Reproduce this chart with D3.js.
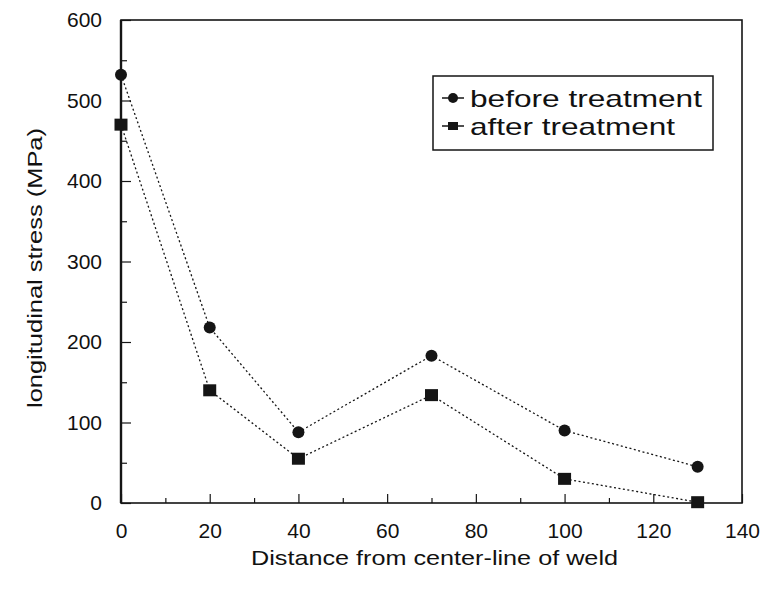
<!DOCTYPE html>
<html><head><meta charset="utf-8">
<script src="https://cdn.jsdelivr.net/npm/d3@7"></script>
<style>body{margin:0;background:#fff}svg{display:block}text{font-family:"Liberation Sans",Arial,sans-serif;fill:#111}</style>
</head><body>
<svg id="c" width="767" height="590"></svg>
<script>
const distances = [0, 20, 40, 70, 100, 130];
const beforeTreatment = [532, 218, 88, 183, 90, 45];
const afterTreatment = [470, 140, 55, 134, 30, 1];
const seriesNames = ["before treatment", "after treatment"];
const xTicks = [0, 20, 40, 60, 80, 100, 120, 140];
const yTicks = [0, 100, 200, 300, 400, 500, 600];

const svg = d3.select("#c");
const m = {l: 121, r: 25, t: 20, b: 87};
const W = 767 - m.l - m.r, H = 590 - m.t - m.b;
const x = d3.scaleLinear().domain([0, 140]).range([m.l, m.l + W]);
const y = d3.scaleLinear().domain([0, 600]).range([m.t + H, m.t]);
const ink = "#151515";
const ff = "'Liberation Sans',Arial,sans-serif";

// frame
svg.append("rect").attr("x", m.l).attr("y", m.t).attr("width", W).attr("height", H)
  .attr("fill", "none").attr("stroke", ink).attr("stroke-width", 1.6);
svg.append("line").attr("x1", m.l).attr("x2", m.l).attr("y1", m.t).attr("y2", m.t + H)
  .attr("stroke", ink).attr("stroke-width", 2.4);

// y axis
const ya = svg.append("g").attr("transform", `translate(${m.l},0)`)
  .call(d3.axisRight(y).tickValues(d3.range(0, 601, 50)).tickSize(0).tickFormat(""));
ya.select(".domain").remove();
ya.selectAll(".tick line").attr("x2", d => d % 100 === 0 ? 10 : 6).attr("stroke", ink).attr("stroke-width", 1.2);
const yl = svg.append("g").attr("transform", `translate(${m.l},0)`)
  .call(d3.axisLeft(y).tickValues(yTicks).tickSize(0).tickPadding(19));
yl.select(".domain").remove();
yl.selectAll("text").attr("font-size", 21).attr("fill", ink).style("font-family", ff);

// x axis
const xa = svg.append("g").attr("transform", `translate(0,${m.t + H})`)
  .call(d3.axisTop(x).tickValues(d3.range(0, 141, 10)).tickSize(0).tickFormat(""));
xa.select(".domain").remove();
xa.selectAll(".tick line").attr("y2", d => d % 20 === 0 ? -9 : -5).attr("stroke", ink).attr("stroke-width", 1.2);
const xl = svg.append("g").attr("transform", `translate(0,${m.t + H})`)
  .call(d3.axisBottom(x).tickValues(xTicks).tickSize(0).tickPadding(20));
xl.select(".domain").remove();
xl.selectAll("text").attr("font-size", 21).attr("fill", ink).style("font-family", ff);

// axis titles
svg.append("text").attr("x", x(70) + 3).attr("y", 565).attr("text-anchor", "middle")
  .attr("font-size", 21).attr("textLength", 367).attr("lengthAdjust", "spacingAndGlyphs")
  .text("Distance from center-line of weld");
svg.append("text").attr("transform", `translate(42,268) rotate(-90)`).attr("text-anchor", "middle")
  .attr("font-size", 20).attr("textLength", 280).attr("lengthAdjust", "spacingAndGlyphs")
  .text("longitudinal stress (MPa)");

// lines
const line = d3.line().x((d, i) => x(distances[i])).y(d => y(d));
[beforeTreatment, afterTreatment].forEach(s => {
  svg.append("path").attr("d", line(s)).attr("fill", "none").attr("stroke", ink)
    .attr("stroke-width", 1.3).attr("stroke-dasharray", "2,2.5");
});
// markers
svg.append("g").selectAll("circle").data(beforeTreatment).join("circle")
  .attr("cx", (d, i) => x(distances[i])).attr("cy", d => y(d)).attr("r", 6).attr("fill", ink);
svg.append("g").selectAll("rect").data(afterTreatment).join("rect")
  .attr("x", (d, i) => x(distances[i]) - 6.5).attr("y", d => y(d) - 6).attr("width", 13).attr("height", 12).attr("fill", ink);

// legend
const lg = svg.append("g");
lg.append("rect").attr("x", 433).attr("y", 76).attr("width", 280).attr("height", 74)
  .attr("fill", "#fff").attr("stroke", ink).attr("stroke-width", 1.5);
const legendWidths = [232, 205];
seriesNames.forEach((n, i) => {
  const cy = 98 + i * 28;
  lg.append("line").attr("x1", 442).attr("x2", 464).attr("y1", cy).attr("y2", cy).attr("stroke", ink).attr("stroke-width", 1.5);
  if (i === 0) lg.append("circle").attr("cx", 453).attr("cy", cy).attr("r", 5).attr("fill", ink);
  else lg.append("rect").attr("x", 448).attr("y", cy - 4).attr("width", 10).attr("height", 8).attr("fill", ink);
  lg.append("text").attr("x", 470).attr("y", cy + 9).attr("font-size", 24)
    .attr("textLength", legendWidths[i]).attr("lengthAdjust", "spacingAndGlyphs").text(n);
});
</script>
</body></html>
